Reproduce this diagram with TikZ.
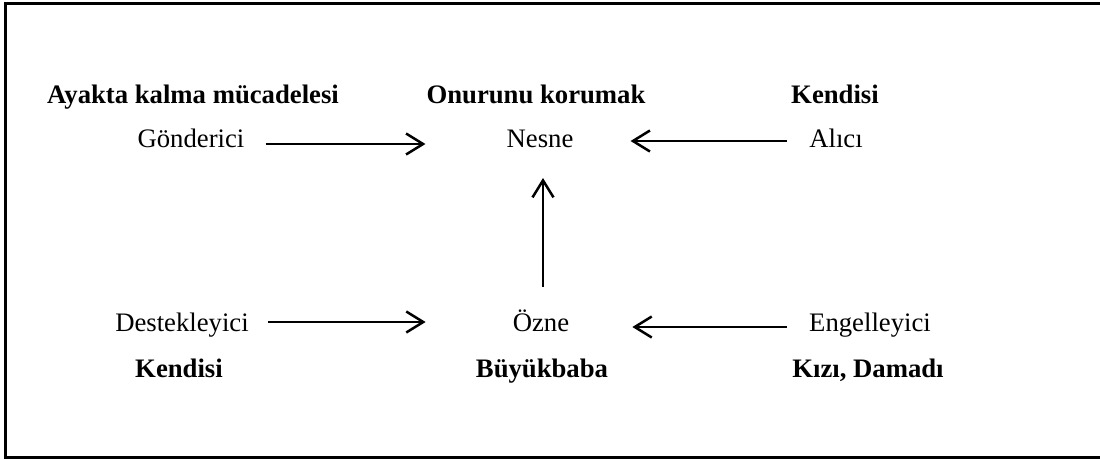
\documentclass[tikz,border=0pt]{standalone}
\usepackage{fontspec}
\setmainfont{Liberation Serif}
\usetikzlibrary{arrows.meta, positioning}

\begin{document}
\begin{tikzpicture}[x=1pt, y=-1pt,
    role/.style={anchor=base, inner sep=0pt, font=\fontsize{26.7}{32}\selectfont},
    actor/.style={role, font=\fontsize{26.7}{32}\selectfont\bfseries},
    arr/.style={line width=2.5pt, -{Straight Barb[length=17pt, width=21pt, line width=2.5pt]}}]
  \useasboundingbox (0,0) rectangle (1100,459);
  % Frame (right side runs off the page)
  \draw[line width=3pt] (1100,3) -- (5,3) -- (5,457) -- (1100,457);
  % Upper row
  \node[actor] (sendername) at (193,103) {Ayakta kalma mücadelesi};
  \node[actor] (objectname) at (536,103) {Onurunu korumak};
  \node[actor] (receivername) at (835,103) {Kendisi};
  \node[role] (gonderici) at (191,147) {Gönderici};
  \node[role] (nesne) at (540,147) {Nesne};
  \node[role] (alici) at (836,147) {Alıcı};
  % Lower row
  \node[role] (destekleyici) at (182,331) {Destekleyici};
  \node[role] (ozne) at (541,331) {Özne};
  \node[role] (engelleyici) at (870,331) {Engelleyici};
  \node[actor] (helpername) at (179,377) {Kendisi};
  \node[actor] (subjectname) at (542,377) {Büyükbaba};
  \node[actor] (opponentname) at (868,377) {Kızı, Damadı};
  % Arrows
  \draw[arr] ([xshift=21pt, yshift=3pt]gonderici.base east) -- ([xshift=-81pt, yshift=3pt]nesne.base west);
  \draw[arr] ([xshift=-22pt, yshift=6pt]alici.base west) -- ([xshift=57pt, yshift=6pt]nesne.base east);
  \draw[arr] ([xshift=2pt, yshift=44pt]ozne.base) -- ([xshift=3pt, yshift=-31pt]nesne.base);
  \draw[arr] ([xshift=19pt, yshift=9pt]destekleyici.base east) -- ([xshift=-87pt, yshift=9pt]ozne.base west);
  \draw[arr] ([xshift=-22pt, yshift=4pt]engelleyici.base west) -- ([xshift=63pt, yshift=4pt]ozne.base east);
\end{tikzpicture}
\end{document}
